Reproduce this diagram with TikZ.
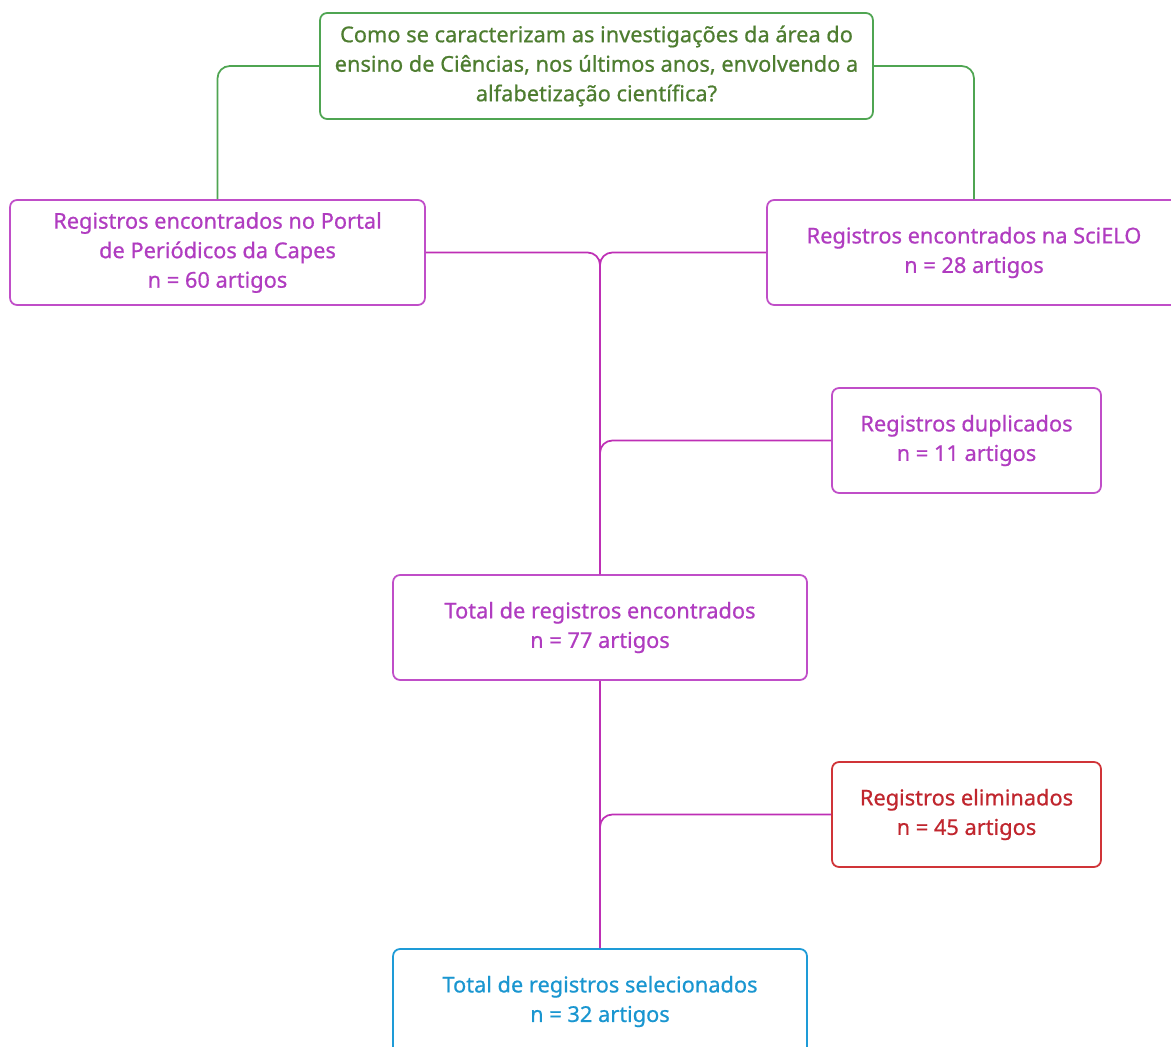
\documentclass[tikz,border=0pt]{standalone}
\usepackage{fontspec}
\setmainfont{Noto Sans}
\newfontfamily\boxfont{Noto Sans}[FakeBold=0.7]
\usetikzlibrary{positioning}

\definecolor{qtext}{HTML}{4E7D30}
\definecolor{qline}{HTML}{4FA552}
\definecolor{ptext}{HTML}{B03CC0}
\definecolor{pline}{HTML}{C04EC8}
\definecolor{plink}{HTML}{BE2FB5}
\definecolor{rtext}{HTML}{C0262E}
\definecolor{rline}{HTML}{D03438}
\definecolor{btext}{HTML}{1A96D0}
\definecolor{bline}{HTML}{1E9BD7}

\tikzset{
  box/.style={draw, rounded corners=4pt, line width=1pt, align=center, inner sep=0pt,
    minimum height=2.1cm, font=\boxfont\fontsize{12.4}{16.8}\selectfont},
  link/.style={line width=1pt, rounded corners=7pt},
}

\begin{document}
\begin{tikzpicture}[x=0.02cm, y=-0.02cm]
\useasboundingbox (0,0) rectangle (1171,1047);

% Question
\node[box, draw=qline, text=qtext, minimum width=11.06cm, minimum height=2.12cm] (question) at (596.5,66)
  {Como se caracterizam as investigações da área do\\ensino de Ciências, nos últimos anos, envolvendo a\\alfabetização científica?};

% Sources
\node[box, draw=pline, text=ptext, minimum width=8.3cm] (capes) at (217.5,252.5)
  {Registros encontrados no Portal\\de Periódicos da Capes\\n = 60 artigos};
\node[box, draw=pline, text=ptext, minimum width=8.28cm] (scielo) at (974,252.5)
  {Registros encontrados na SciELO\\n = 28 artigos};

% Screening
\node[box, draw=pline, text=ptext, minimum width=5.38cm] (duplicados) at (966.5,440.5)
  {Registros duplicados\\n = 11 artigos};
\node[box, draw=pline, text=ptext, minimum width=8.28cm] (total) at (600,627.5)
  {Total de registros encontrados\\n = 77 artigos};
\node[box, draw=rline, text=rtext, minimum width=5.38cm] (eliminados) at (966.5,814.5)
  {Registros eliminados\\n = 45 artigos};
\node[box, draw=bline, text=btext, minimum width=8.28cm] (selecionados) at (600,1001.5)
  {Total de registros selecionados\\n = 32 artigos};

% Connectors
\draw[link, qline] (question.west) -| (capes.north);
\draw[link, qline] (question.east) -| (scielo.north);
\draw[link, plink] (capes.east) -| (total.north);
\draw[link, plink] (scielo.west) -| (total.north);
\draw[link, plink] (duplicados.west) -| (total.north);
\draw[link, plink] (total.south) -- (selecionados.north);
\draw[link, plink] (eliminados.west) -| (selecionados.north);
\end{tikzpicture}
\end{document}
